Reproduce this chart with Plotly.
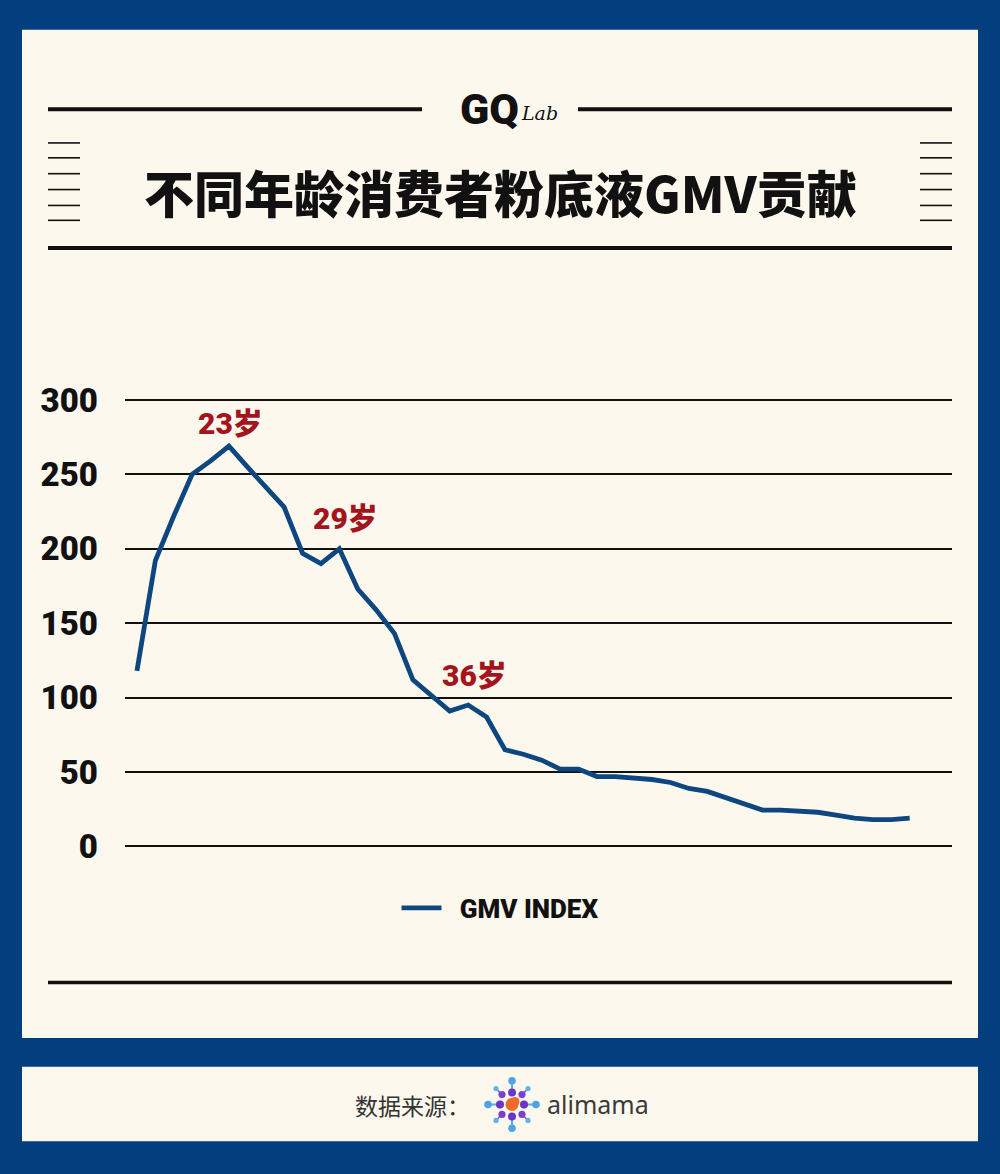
import plotly.graph_objects as go

# ---- data ----
ages = list(range(18, 61))
gmv_index = [118, 192, 222, 250, 259, 269, 255, 242, 228, 197, 190, 200, 173, 159, 143, 112,
             101, 91, 95, 87, 65, 62, 58, 52, 52, 47, 47, 46, 45, 43, 39, 37, 33, 29, 24.5, 24.5,
             24, 23, 21, 19, 18, 18, 19]
y_ticks = [0, 50, 100, 150, 200, 250, 300]
peak_ages = [23, 29, 36]
peak_labels = ["23岁", "29岁", "36岁"]
series_name = "GMV INDEX"
title_text = "不同年龄消费者粉底液GMV贡献"
source_text = "数据来源："

W, H = 1000, 1174
BLUE = "#033E7E"
CREAM = "#FDF8EE"
LINE = "#0E4680"
RED = "#A3141C"
NUM_FONT = "Roboto, Noto Sans CJK SC, sans-serif"


def px(x):
    return x / W


def py(y):
    return 1 - y / H


fig = go.Figure()
fig.add_trace(go.Scatter(x=ages, y=gmv_index, mode="lines", name="\u2002" + series_name,
                         line=dict(color=LINE, width=4.8), showlegend=True, hoverinfo="skip"))

shapes = []
shapes.append(dict(type="rect", xref="paper", yref="paper", x0=px(22), x1=px(978), y0=py(1042), y1=py(26),
                   fillcolor=CREAM, line=dict(width=0), layer="below"))
shapes.append(dict(type="rect", xref="paper", yref="paper", x0=px(22), x1=px(978), y0=py(1146), y1=py(1071),
                   fillcolor=CREAM, line=dict(width=0), layer="below"))


def hline(x0, x1, y, w, color="#111111"):
    shapes.append(dict(type="line", xref="paper", yref="paper", x0=px(x0), x1=px(x1), y0=py(y), y1=py(y),
                       line=dict(color=color, width=w)))


hline(48, 422, 106, 4)
hline(578, 952, 106, 4)
hline(48, 952, 246, 4)
hline(48, 952, 986, 3.5)
for yy in [140, 155, 171, 187, 203, 218]:
    hline(48, 80, yy, 1.6)
    hline(920, 952, yy, 1.6)


def circle(cx, cy, r, color):
    shapes.append(dict(type="circle", xref="paper", yref="paper", x0=px(cx - r), x1=px(cx + r),
                       y0=py(cy + r), y1=py(cy - r), fillcolor=color, line=dict(width=0)))


def seg(x0, y0, x1, y1, color, w):
    shapes.append(dict(type="line", xref="paper", yref="paper", x0=px(x0), x1=px(x1), y0=py(y0), y1=py(y1),
                       line=dict(color=color, width=w)))


cx, cy = 512, 1109
for dx, dy in [(0, -1), (0, 1), (-1, 0), (1, 0)]:
    seg(cx + dx * 11, cy + dy * 11, cx + dx * 23, cy + dy * 23, "#5aa8e6", 2)
    circle(cx + dx * 24, cy + dy * 24, 3.8, "#4fa3e8")
for dx, dy in [(-1, -1), (1, -1), (-1, 1), (1, 1)]:
    seg(cx + dx * 8, cy + dy * 8, cx + dx * 15, cy + dy * 15, "#8a5ad8", 1.5)
    circle(cx + dx * 16, cy + dy * 16, 2.6, "#5fb3ef")
    circle(cx + dx * 10, cy + dy * 10, 3.6, "#7b3fd0")
for dx, dy in [(0, -1), (0, 1), (-1, 0), (1, 0)]:
    circle(cx + dx * 12, cy + dy * 12, 4.0, "#6a35c8")
circle(cx, cy, 6.5, "#F06A2A")
circle(cx + 3, cy - 3, 4.5, "#F06A2A")

annotations = []
for a, lab in zip(peak_ages, peak_labels):
    v = gmv_index[ages.index(a)]
    annotations.append(dict(x=a, y=v, xref="x", yref="y", text=lab, showarrow=False,
                            yshift=23 if a == 23 else 30, xshift=2 if a == 23 else 6,
                            font=dict(family=NUM_FONT, size=30, color=RED, weight=900)))

annotations += [
    dict(x=0.5, y=py(188), xref="paper", yref="paper", text=title_text, showarrow=False,
         font=dict(family="Noto Sans CJK SC, sans-serif", size=50, color="#111111", weight=900),
         xanchor="center", yanchor="middle"),
    dict(x=px(521), y=py(106), xref="paper", yref="paper", text="GQ", showarrow=False,
         font=dict(family="Roboto, sans-serif", size=43, color="#111111", weight=900),
         xanchor="right", yanchor="middle"),
    dict(x=px(519), y=py(110), xref="paper", yref="paper", text="<i>Lab</i>", showarrow=False,
         font=dict(family="DejaVu Serif, serif", size=19, color="#111111"), xanchor="left", yanchor="middle"),
    dict(x=px(472), y=py(1110), xref="paper", yref="paper", text=source_text, showarrow=False,
         font=dict(family="Noto Sans CJK SC, sans-serif", size=23, color="#333333"), xanchor="right", yanchor="middle"),
    dict(x=px(545), y=py(1109), xref="paper", yref="paper", text="alimama", showarrow=False,
         font=dict(family="Noto Sans, sans-serif", size=25, color="#3a3a3a"), xanchor="left", yanchor="middle"),
]

fig.update_layout(
    width=W, height=H,
    margin=dict(l=0, r=0, t=0, b=0),
    paper_bgcolor=BLUE,
    plot_bgcolor="rgba(0,0,0,0)",
    shapes=shapes,
    annotations=annotations,
    showlegend=True,
    legend=dict(orientation="h", x=0.5, xanchor="center", y=py(911), yanchor="middle",
                bgcolor="rgba(0,0,0,0)", font=dict(family=NUM_FONT, size=26, color="#111111", weight=900),
                itemwidth=40),
    xaxis=dict(domain=[px(125), px(952)], range=[17.35, 62.3], visible=False, showgrid=False, zeroline=False),
    yaxis=dict(domain=[py(864), py(384)], range=[-10, 310], tickvals=y_ticks, ticktext=[str(t) for t in y_ticks],
               showgrid=True, gridcolor="#111111", gridwidth=1.6, zeroline=False, showline=False,
               ticks="", ticklabelstandoff=26,
               tickfont=dict(family=NUM_FONT, size=33, color="#111111", weight=900)),
)

fig.write_html("out.html", config={"displayModeBar": False},
               post_script="document.body.style.margin='0';document.body.style.padding='0';")
